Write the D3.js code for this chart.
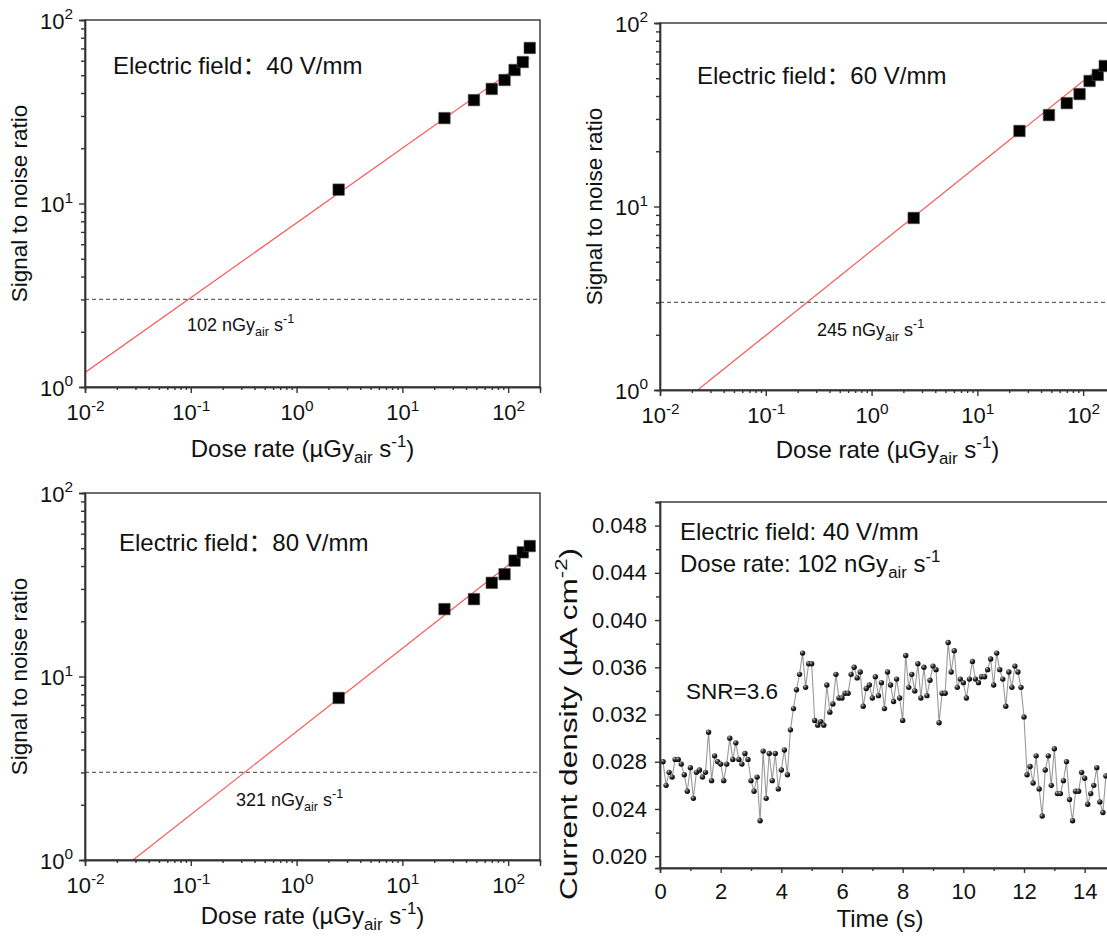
<!doctype html>
<html lang="en">
<head>
    <meta charset="utf-8">
    <title>SNR vs dose rate</title>
    <script src="https://d3js.org/d3.v7.min.js"></script>
    <style>
        body { margin: 0; background: #fff; }
        svg { display: block; font-family: "Liberation Sans", Arial, "Noto Sans CJK SC", sans-serif; }
    </style>
</head>
<body>
<script>
    // dose rates in µGy_air/s, shared by the three SNR panels
    var doseRates = [2.5, 25, 47.5, 70, 92.5, 115, 137.5, 160];
    var snr40 = [11.9, 29.2, 36.6, 42.1, 47.1, 53.4, 59.0, 70.4];
    var snr60 = [8.66, 25.8, 31.5, 36.6, 41.0, 48.3, 52.1, 58.3];
    var snr80 = [7.64, 23.3, 26.4, 32.4, 36.1, 42.8, 47.5, 51.4];

    // fitted lines (log-log), end points [dose, snr]
    var fit40 = [[0.01, 1.2], [160, 62]];
    var fit60 = [[0.0227, 1], [160, 60]];
    var fit80 = [[0.0285, 1], [160, 50]];

    var snrLimit = 3;
    var fieldLabels = ["40", "60", "80"];
    var limitLabels = ["102", "245", "321"];

    var logTicksX = [0.01, 0.1, 1, 10, 100];
    var logTicksY = [1, 10, 100];

    // current density trace, 40 V/mm at 102 nGy/s, one sample every 0.1 s starting at 0.1 s
    var sampleStep = 0.1;
    var current = [
        0.0280, 0.0260, 0.0271, 0.0267, 0.0282, 0.0282, 0.0278, 0.0269, 0.0255, 0.0275,
        0.0249, 0.0271, 0.0273, 0.0267, 0.0271, 0.0305, 0.0264, 0.0285, 0.0280, 0.0278,
        0.0264, 0.0278, 0.0300, 0.0282, 0.0296, 0.0282, 0.0278, 0.0287, 0.0282, 0.0264,
        0.0255, 0.0267, 0.0230, 0.0289, 0.0249, 0.0287, 0.0264, 0.0287, 0.0257, 0.0273,
        0.0290, 0.0269, 0.0307, 0.0325, 0.0341, 0.0354, 0.0372, 0.0343, 0.0363, 0.0363,
        0.0315, 0.0311, 0.0314, 0.0311, 0.0345, 0.0322, 0.0329, 0.0354, 0.0334, 0.0334,
        0.0338, 0.0338, 0.0354, 0.0360, 0.0351, 0.0356, 0.0327, 0.0342, 0.0345, 0.0334,
        0.0352, 0.0336, 0.0347, 0.0325, 0.0356, 0.0345, 0.0331, 0.0350, 0.0334, 0.0315,
        0.0370, 0.0343, 0.0354, 0.0340, 0.0363, 0.0334, 0.0360, 0.0336, 0.0349, 0.0361,
        0.0358, 0.0313, 0.0338, 0.0338, 0.0381, 0.0356, 0.0374, 0.0343, 0.0350, 0.0347,
        0.0334, 0.0350, 0.0365, 0.0350, 0.0347, 0.0352, 0.0352, 0.0358, 0.0367, 0.0345,
        0.0372, 0.0358, 0.0350, 0.0327, 0.0356, 0.0343, 0.0361, 0.0356, 0.0343, 0.0318,
        0.0269, 0.0276, 0.0262, 0.0285, 0.0257, 0.0234, 0.0273, 0.0285, 0.0260, 0.0291,
        0.0253, 0.0253, 0.0264, 0.0280, 0.0248, 0.0230, 0.0255, 0.0255, 0.0271, 0.0266,
        0.0244, 0.0253, 0.0260, 0.0275, 0.0246, 0.0237, 0.0268
    ];
    var timeTicks = [0, 2, 4, 6, 8, 10, 12, 14];
    var currentTicks = [0.020, 0.024, 0.028, 0.032, 0.036, 0.040, 0.044, 0.048];

    var axisColor = "#333";

    var svg = d3.select("body").append("svg")
        .attr("width", 1107)
        .attr("height", 937);

    // writes text with sub / superscript parts, parts = [[text, "sub"|"sup"|null], ...]
    function richText(sel, parts, fs) {
        var cur = 0;
        parts.forEach(function (p) {
            var target = p[1] == "sub" ? 0.27 * fs : p[1] == "sup" ? -0.42 * fs : 0;
            var ts = sel.append("tspan")
                .attr("dy", target - cur)
                .text(p[0]);
            if (p[1]) ts.attr("font-size", fs * 0.7);
            cur = target;
        });
        return sel;
    }

    function styleAxis(g, fs) {
        g.attr("font-size", fs).attr("font-family", null);
        g.select(".domain").attr("stroke", axisColor).attr("stroke-width", 1.4);
        g.selectAll(".tick line").attr("stroke", axisColor).attr("stroke-width", 1.4);
        g.selectAll(".tick text").attr("fill", "#111");
    }

    function minorLogTicks(lo, hi) {
        var out = [];
        for (var e = Math.floor(Math.log10(lo)); e <= Math.ceil(Math.log10(hi)); e++) {
            for (var k = 2; k <= 9; k++) {
                var v = k * Math.pow(10, e);
                if (v > lo && v < hi) out.push(v);
            }
        }
        return out;
    }

    function logPanel(box, snr, fit, idx, ann, lim, ytitleX, xtitle) {
        var x = d3.scaleLog().domain([0.01, 200]).range([box.left, box.left + box.width]);
        var y = d3.scaleLog().domain([1, 100]).range([box.top + box.height, box.top]);
        var g = svg.append("g");

        var clipId = "clip" + idx;
        g.append("clipPath").attr("id", clipId)
            .append("rect")
            .attr("x", box.left).attr("y", box.top)
            .attr("width", box.width).attr("height", box.height);

        var plot = g.append("g").attr("clip-path", "url(#" + clipId + ")");

        // SNR = 3 detection limit
        plot.append("line")
            .attr("x1", box.left).attr("x2", box.left + box.width)
            .attr("y1", y(snrLimit)).attr("y2", y(snrLimit))
            .attr("stroke", "#666")
            .attr("stroke-width", 1.3)
            .attr("stroke-dasharray", "4,3");

        plot.append("path")
            .datum(fit)
            .attr("fill", "none")
            .attr("stroke", "#ff4d4d")
            .attr("stroke-width", 1.1)
            .attr("d", d3.line().x(function (d) { return x(d[0]); }).y(function (d) { return y(d[1]); }));

        g.selectAll(".pt")
            .data(doseRates.map(function (d, i) { return [d, snr[i]]; }))
            .enter().append("path")
            .attr("class", "pt")
            .attr("transform", function (d) { return "translate(" + x(d[0]) + "," + y(d[1]) + ")"; })
            .attr("d", d3.symbol(d3.symbolSquare, 132))
            .attr("fill", "#000")
            .attr("stroke", "#555")
            .attr("stroke-width", 0.6);

        // frame
        g.append("rect")
            .attr("x", box.left).attr("y", box.top)
            .attr("width", box.width).attr("height", box.height)
            .attr("fill", "none")
            .attr("stroke", axisColor)
            .attr("stroke-width", 1.4);

        // x axis
        var xMinor = g.append("g")
            .attr("transform", "translate(0," + (box.top + box.height) + ")")
            .call(d3.axisBottom(x).tickValues(minorLogTicks(0.01, 200)).tickSize(3).tickFormat(""));
        styleAxis(xMinor, 22);
        var xAxis = g.append("g")
            .attr("transform", "translate(0," + (box.top + box.height) + ")")
            .call(d3.axisBottom(x).tickValues(logTicksX).tickSize(6));
        styleAxis(xAxis, 22);
        xAxis.selectAll(".tick text")
            .attr("y", 33).attr("dy", null)
            .text(null)
            .each(function (d) {
                richText(d3.select(this), [["10", null], [Math.round(Math.log10(d)), "sup"]], 22);
            });

        // y axis
        var yMinor = g.append("g")
            .attr("transform", "translate(" + box.left + ",0)")
            .call(d3.axisLeft(y).tickValues(minorLogTicks(1, 100)).tickSize(4).tickFormat(""));
        styleAxis(yMinor, 22);
        var yAxis = g.append("g")
            .attr("transform", "translate(" + box.left + ",0)")
            .call(d3.axisLeft(y).tickValues(logTicksY).tickSize(6).tickPadding(6));
        styleAxis(yAxis, 22);
        yAxis.selectAll(".tick text")
            .attr("dy", null).attr("y", 8)
            .text(null)
            .each(function (d) {
                richText(d3.select(this), [["10", null], [Math.round(Math.log10(d)), "sup"]], 22);
            });

        // titles
        richText(g.append("text")
            .attr("x", box.left + box.width / 2 + xtitle[0])
            .attr("y", box.top + box.height + xtitle[1])
            .attr("text-anchor", "middle")
            .attr("font-size", 24)
            .attr("fill", "#111"),
            [["Dose rate (\u00b5Gy", null], ["air", "sub"], [" s", null], ["-1", "sup"], [")", null]], 24);

        g.append("text")
            .attr("transform", "translate(" + ytitleX + "," + (box.top + box.height / 2) + ") rotate(-90)")
            .attr("text-anchor", "middle")
            .attr("font-size", 22.5)
            .attr("fill", "#111")
            .text("Signal to noise ratio");

        g.append("text")
            .attr("x", box.left + ann[0])
            .attr("y", box.top + ann[1])
            .attr("font-size", 24)
            .attr("fill", "#111")
            .text("Electric field\uff1a" + fieldLabels[idx] + " V/mm");

        richText(g.append("text")
            .attr("x", box.left + lim[0])
            .attr("y", box.top + lim[1])
            .attr("font-size", 18)
            .attr("fill", "#111"),
            [[limitLabels[idx] + " nGy", null], ["air", "sub"], [" s", null], ["-1", "sup"]], 18);
    }

    logPanel({left: 85, top: 20, width: 455, height: 367}, snr40, fit40, 0, [28, 54], [102, 311], 27, [-10, 70]);
    logPanel({left: 660, top: 23, width: 455, height: 367}, snr60, fit60, 1, [37, 61], [157, 313], 602, [0, 68]);
    logPanel({left: 85, top: 493, width: 455, height: 367}, snr80, fit80, 2, [34, 58], [151, 313], 27, [0, 64]);

    // ---- time trace panel ----
    var tb = {left: 660, top: 502, width: 455, height: 366};
    var tx = d3.scaleLinear().domain([0, 15]).range([tb.left, tb.left + tb.width]);
    var ty = d3.scaleLinear().domain([0.019, 0.050]).range([tb.top + tb.height, tb.top]);
    var tg = svg.append("g");

    var trace = current.map(function (v, i) { return [(i + 1) * sampleStep, v]; });

    var defs = svg.append("defs");
    var grad = defs.append("radialGradient").attr("id", "ball")
        .attr("cx", "35%").attr("cy", "30%").attr("r", "70%");
    grad.append("stop").attr("offset", "0%").attr("stop-color", "#bbb");
    grad.append("stop").attr("offset", "45%").attr("stop-color", "#333");
    grad.append("stop").attr("offset", "100%").attr("stop-color", "#000");

    tg.append("path")
        .datum(trace)
        .attr("fill", "none")
        .attr("stroke", "#999")
        .attr("stroke-width", 1.1)
        .attr("d", d3.line().x(function (d) { return tx(d[0]); }).y(function (d) { return ty(d[1]); }));

    tg.selectAll(".dot")
        .data(trace)
        .enter().append("circle")
        .attr("class", "dot")
        .attr("cx", function (d) { return tx(d[0]); })
        .attr("cy", function (d) { return ty(d[1]); })
        .attr("r", 2.7)
        .attr("fill", "url(#ball)");

    tg.append("rect")
        .attr("x", tb.left).attr("y", tb.top)
        .attr("width", tb.width).attr("height", tb.height)
        .attr("fill", "none")
        .attr("stroke", axisColor)
        .attr("stroke-width", 1.4);

    var txMinor = tg.append("g")
        .attr("transform", "translate(0," + (tb.top + tb.height) + ")")
        .call(d3.axisBottom(tx).tickValues([1, 3, 5, 7, 9, 11, 13, 15]).tickSize(3).tickFormat(""));
    styleAxis(txMinor, 22);
    var txAxis = tg.append("g")
        .attr("transform", "translate(0," + (tb.top + tb.height) + ")")
        .call(d3.axisBottom(tx).tickValues(timeTicks).tickSize(5).tickFormat(d3.format("d")));
    styleAxis(txAxis, 22);
    txAxis.selectAll(".tick text").attr("y", 31).attr("dy", null);

    var tyMinor = tg.append("g")
        .attr("transform", "translate(" + tb.left + ",0)")
        .call(d3.axisLeft(ty).tickValues([0.022, 0.026, 0.030, 0.034, 0.038, 0.042, 0.046, 0.050]).tickSize(4).tickFormat(""));
    styleAxis(tyMinor, 22);
    var tyAxis = tg.append("g")
        .attr("transform", "translate(" + tb.left + ",0)")
        .call(d3.axisLeft(ty).tickValues(currentTicks).tickSize(5).tickPadding(8).tickFormat(d3.format(".3f")));
    styleAxis(tyAxis, 22);

    tg.append("text")
        .attr("x", 880)
        .attr("y", 927)
        .attr("text-anchor", "middle")
        .attr("font-size", 24)
        .attr("fill", "#111")
        .text("Time (s)");

    richText(tg.append("text")
        .attr("transform", "translate(577,724) rotate(-90)")
        .attr("text-anchor", "middle")
        .attr("font-size", 23)
        .attr("textLength", 352)
        .attr("lengthAdjust", "spacingAndGlyphs")
        .attr("fill", "#111"),
        [["Current density (\u00b5A cm", null], ["-2", "sup"], [")", null]], 23);

    tg.append("text")
        .attr("x", 680).attr("y", 540)
        .attr("font-size", 24)
        .attr("fill", "#111")
        .text("Electric field: 40 V/mm");

    richText(tg.append("text")
        .attr("x", 680).attr("y", 572)
        .attr("font-size", 24)
        .attr("fill", "#111"),
        [["Dose rate: 102 nGy", null], ["air", "sub"], [" s", null], ["-1", "sup"]], 24);

    tg.append("text")
        .attr("x", 686).attr("y", 699)
        .attr("font-size", 22.5)
        .attr("fill", "#111")
        .text("SNR=3.6");
</script>
</body>
</html>
